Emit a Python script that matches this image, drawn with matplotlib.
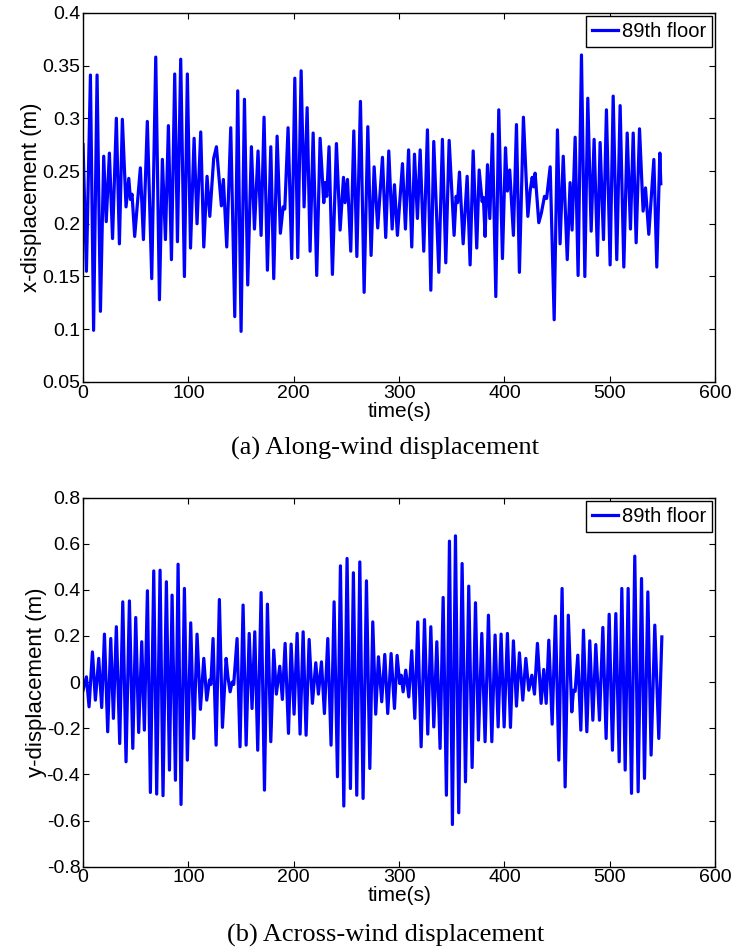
import numpy as np
import matplotlib
matplotlib.use('Agg')
import matplotlib.pyplot as plt

plt.rcParams['font.family'] = ['Liberation Sans', 'DejaVu Sans']
plt.rcParams['axes.unicode_minus'] = False

# along-wind displacement, 89th floor (peaks and troughs)
top_t = [0, 3.2, 7, 10, 13.3, 16.5, 19.6, 22, 25, 28, 31.6, 34.5, 37.3, 40.8, 43.4, 45, 46.5, 49,
         54.4, 57.3, 61, 65.2, 69, 72.5, 75.3, 78.2, 81, 83.9, 87, 89.6, 92.7, 96.2, 99, 102,
         105.4, 108.2, 111.7, 114.6, 117.7, 120.3, 124, 126.6, 131.3, 133.2, 136.4, 140.2, 144,
         146.8, 150, 153.2, 156.3, 159.8, 162.7, 166.1, 169, 171.8, 175, 178.2, 181, 184.2, 187.3,
         189.9, 191.5, 194.6, 198.1, 201, 203.8, 207, 209.8, 212.7, 215.5, 218.4, 221.8, 225,
         228.5, 229.8, 231.3, 233.5, 236.7, 240.5, 244, 247.2, 248.7, 251, 254.1, 257, 259.9,
         263.3, 266.8, 270.3, 273.4, 276.3, 279.7, 284.2, 287.3, 290.2, 293.4, 295.6, 298.4,
         303.2, 306, 309, 312, 314.6, 317.4, 320, 323.4, 326.9, 330.1, 332.9, 337.7, 341.1,
         344.3, 347.5, 352.2, 354.1, 355.5, 357.3, 360.8, 364.6, 367.4, 370.3, 373.7, 376,
         378.8, 380, 381.6, 383.9, 386.1, 388.6, 391.8, 394.6, 398.1, 401, 402.8, 405, 408.5,
         411.4, 414.2, 418, 422.2, 424.5, 426.3, 427.8, 429.1, 432.6, 435, 438, 440, 443.4,
         447.2, 450.3, 452.8, 455.8, 459.6, 462.3, 464.2, 467.1, 469.9, 473.1, 476.3, 479.1,
         482.3, 485.1, 488.3, 490.8, 494, 496.8, 500.3, 503.2, 506.6, 509.8, 513.3, 516.5,
         519.6, 522.2, 525, 528.2, 531.6, 533.9, 537, 541.8, 544.6, 547.5, 548.4]
top_x = [0.275, 0.155, 0.341, 0.099, 0.341, 0.117, 0.264, 0.202, 0.267, 0.186, 0.300, 0.181,
         0.299, 0.216, 0.243, 0.223, 0.228, 0.188, 0.253, 0.185, 0.297, 0.148, 0.358, 0.128,
         0.261, 0.185, 0.293, 0.166, 0.342, 0.183, 0.356, 0.150, 0.342, 0.177, 0.281, 0.200,
         0.287, 0.178, 0.245, 0.207, 0.262, 0.273, 0.217, 0.242, 0.178, 0.291, 0.112, 0.326,
         0.098, 0.318, 0.142, 0.273, 0.195, 0.269, 0.189, 0.301, 0.156, 0.273, 0.148, 0.283,
         0.191, 0.216, 0.214, 0.291, 0.167, 0.338, 0.168, 0.345, 0.216, 0.310, 0.174, 0.286,
         0.151, 0.281, 0.220, 0.239, 0.226, 0.273, 0.152, 0.276, 0.194, 0.244, 0.220, 0.242,
         0.174, 0.288, 0.169, 0.316, 0.135, 0.292, 0.170, 0.254, 0.196, 0.263, 0.187, 0.269,
         0.195, 0.237, 0.189, 0.257, 0.195, 0.270, 0.178, 0.266, 0.205, 0.270, 0.174, 0.289,
         0.137, 0.278, 0.154, 0.280, 0.163, 0.279, 0.189, 0.226, 0.220, 0.249, 0.181, 0.245,
         0.161, 0.269, 0.177, 0.251, 0.221, 0.225, 0.188, 0.256, 0.205, 0.285, 0.131, 0.308,
         0.167, 0.272, 0.231, 0.251, 0.189, 0.294, 0.154, 0.301, 0.207, 0.232, 0.244, 0.235,
         0.248, 0.201, 0.210, 0.226, 0.224, 0.254, 0.109, 0.289, 0.181, 0.264, 0.166, 0.239,
         0.194, 0.282, 0.151, 0.360, 0.150, 0.319, 0.193, 0.280, 0.170, 0.277, 0.185, 0.308,
         0.161, 0.321, 0.166, 0.312, 0.159, 0.286, 0.195, 0.286, 0.182, 0.290, 0.212, 0.234,
         0.190, 0.261, 0.159, 0.267, 0.238]

# across-wind displacement, 89th floor
bot_t = [0, 3.2, 5.7, 8.9, 11.7, 14.9, 17.7, 20.3, 23.4, 26.3, 28.8, 31.6, 34.8, 37.7, 40.8, 44,
         47.2, 50, 52.8, 55.7, 58.2, 61.1, 63.9, 67.1, 69.9, 73.1, 75.9, 79.1, 82, 84.5, 87.7,
         90.2, 93, 96.2, 99, 102.2, 105.1, 108.2, 111.4, 114.6, 117.4, 120, 121.3, 123.4, 126.3,
         129.4, 132.3, 135.8, 137.5, 139.6, 141.5, 143, 146.2, 149, 151.9, 154.8, 157.7, 160.4,
         163, 165.8, 169, 172.2, 175, 178.2, 181, 183.5, 186.7, 189.2, 191.8, 195, 197.5, 200.3,
         203.2, 206, 208.9, 211.7, 214.6, 217.7, 220.9, 223.4, 226.3, 229.1, 232.3, 235.4, 238.3,
         241.5, 244.3, 247.5, 250.6, 253.8, 256.6, 259.8, 262.7, 265.8, 269, 272.2, 275, 277.8,
         280.4, 283.5, 286.4, 289.2, 292.4, 295.6, 298.1, 300.6, 302, 303.8, 306.3, 309.2, 312,
         314.9, 317.7, 320.9, 324.1, 327.2, 330.1, 332.9, 335.8, 338.9, 341.8, 344.9, 347.8,
         350.6, 353.5, 356.6, 359.8, 363, 366.1, 369.3, 372.5, 375.3, 378.5, 381.6, 384.8, 388,
         391.1, 394, 396.8, 399.7, 402.8, 405.7, 408.5, 411.4, 414.2, 417.4, 420.3, 423.1, 426,
         428.5, 431.3, 434.8, 437.3, 439.6, 442.1, 445.3, 448.4, 451.6, 454.7, 457.6, 460.6,
         463.9, 465.5, 467.1, 469.6, 472.5, 475, 478.2, 481, 483.9, 486.7, 490.2, 493.4, 496.5,
         499.4, 502.5, 505.7, 508.9, 511.4, 514.6, 517.4, 520.6, 523.7, 526.9, 530.1, 532.9,
         536.1, 539.2, 542.7, 546.5, 549.4]
bot_y = [-0.035, 0.023, -0.107, 0.131, -0.078, 0.103, -0.110, 0.208, -0.215, 0.189, -0.157, 0.240,
         -0.266, 0.348, -0.345, 0.352, -0.287, 0.280, -0.218, 0.175, -0.208, 0.396, -0.478, 0.482,
         -0.485, 0.485, -0.492, 0.435, -0.381, 0.377, -0.425, 0.511, -0.530, 0.406, -0.338, 0.257,
         -0.244, 0.208, -0.118, 0.103, -0.078, 0.009, -0.010, 0.189, -0.273, 0.358, -0.196, 0.103,
         0.023, -0.042, 0.000, -0.010, 0.189, -0.280, 0.334, -0.273, 0.211, -0.114, 0.218, -0.295,
         0.388, -0.468, 0.338, -0.258, 0.139, -0.052, 0.069, -0.075, 0.168, -0.222, 0.165, -0.139,
         0.211, -0.225, 0.218, -0.230, 0.185, -0.092, 0.084, -0.052, 0.088, -0.136, 0.189, -0.273,
         0.348, -0.410, 0.504, -0.537, 0.536, -0.461, 0.474, -0.490, 0.521, -0.504, 0.439, -0.374,
         0.261, -0.139, 0.110, -0.085, 0.120, -0.136, 0.124, -0.114, 0.116, -0.006, 0.030, -0.042,
         0.052, -0.064, 0.136, -0.157, 0.261, -0.280, 0.271, -0.225, 0.240, -0.194, 0.175, -0.287,
         0.367, -0.490, 0.611, -0.617, 0.634, -0.566, 0.514, -0.432, 0.416, -0.370, 0.344, -0.251,
         0.211, -0.258, 0.290, -0.258, 0.204, -0.194, 0.208, -0.194, 0.211, -0.196, 0.179, -0.104,
         0.127, -0.078, 0.103, -0.035, 0.030, -0.052, 0.168, -0.092, 0.055, -0.092, 0.182, -0.182,
         0.286, -0.338, 0.406, -0.454, 0.290, -0.129, -0.035, -0.040, 0.117, -0.208, 0.225, -0.215,
         0.179, -0.165, 0.163, -0.165, 0.237, -0.244, 0.294, -0.295, 0.297, -0.345, 0.406, -0.381,
         0.406, -0.482, 0.546, -0.475, 0.449, -0.417, 0.391, -0.316, 0.247, -0.244, 0.196]

x_ticks = [0, 100, 200, 300, 400, 500, 600]
top_yticks = [0.05, 0.1, 0.15, 0.2, 0.25, 0.3, 0.35, 0.4]
top_ylabels = ['0.05', '0.1', '0.15', '0.2', '0.25', '0.3', '0.35', '0.4']
bot_yticks = [-0.8, -0.6, -0.4, -0.2, 0, 0.2, 0.4, 0.6, 0.8]
bot_ylabels = ['-0.8', '-0.6', '-0.4', '-0.2', '0', '0.2', '0.4', '0.6', '0.8']

fig = plt.figure(figsize=(7.35, 9.49), dpi=100)
ax1 = fig.add_axes([0.113, 0.5975, 0.86, 0.389])
ax2 = fig.add_axes([0.113, 0.0867, 0.86, 0.389])

panels = [
    (ax1, top_t, top_x, (0.05, 0.4), top_yticks, top_ylabels, 'x-displacement (m)',
     '(a) Along-wind displacement', 0.527),
    (ax2, bot_t, bot_y, (-0.8, 0.8), bot_yticks, bot_ylabels, 'y-displacement (m)',
     '(b) Across-wind displacement', 0.014),
]

for ax, t, v, ylim, yt, yl, ylab, cap, cap_y in panels:
    ax.plot(t, v, color='#0000ff', lw=2.3, solid_joinstyle='round', label='89th floor')
    ax.set_xlim(0, 600)
    ax.set_ylim(*ylim)
    ax.set_xticks(x_ticks)
    ax.set_yticks(yt)
    ax.set_yticklabels(yl)
    ax.tick_params(direction='in', top=True, right=True, labelsize=14, length=4, pad=2)
    for s in ax.spines.values():
        s.set_linewidth(1.0)
    ax.set_xlabel('time(s)', fontsize=15, labelpad=0)
    ax.set_ylabel(ylab, fontsize=16, labelpad=0)
    leg = ax.legend(loc='upper right', fontsize=14.5, fancybox=False, edgecolor='black',
                    framealpha=1, borderaxespad=0.15, handlelength=1.3, handletextpad=0.2,
                    borderpad=0.3)
    leg.get_frame().set_linewidth(1.0)
    # caption under each panel
    fig.text(0.524, cap_y, cap, ha='center', va='center', fontsize=19,
             family='Liberation Serif')

fig.savefig('out.png', dpi=100)
